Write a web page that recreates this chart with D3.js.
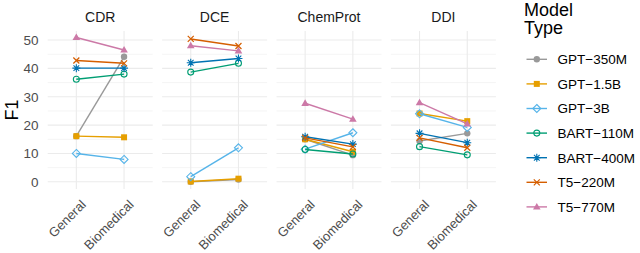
<!DOCTYPE html>
<html>
<head>
<meta charset="utf-8">
<script src="https://cdn.jsdelivr.net/npm/d3@7"></script>
<style>
body { margin:0; background:#fff; }
svg text { font-family: "Liberation Sans", Arial, sans-serif; }
</style>
</head>
<body>
<svg width="640" height="253"></svg>
<script>
// data
const tasks = ['CDR', 'DCE', 'ChemProt', 'DDI'];
const domains = ['General', 'Biomedical'];
const models = ['GPT-350M', 'GPT-1.5B', 'GPT-3B', 'BART-110M', 'BART-400M', 'T5-220M', 'T5-770M'];
const yTicks = [0, 10, 20, 30, 40, 50];
// values per model: [task][General, Biomedical]
const gpt350m  = [[16.1, 44.1], [0.0, 0.8], [15.0, 9.4], [14.4, 17.1]];
const gpt15b   = [[16.1, 15.7], [0.1, 1.1], [15.0, 10.6], [24.1, 21.4]];
const gpt3b    = [[10.0, 7.9], [1.8, 12.0], [11.5, 17.3], [24.0, 19.2]];
const bart110m = [[36.2, 38.0], [38.7, 41.8], [11.4, 9.8], [12.4, 9.5]];
const bart400m = [[40.1, 40.1], [42.0, 43.5], [15.9, 13.3], [17.1, 13.8]];
const t5220m   = [[42.8, 41.8], [50.4, 47.9], [15.5, 12.3], [15.5, 12.0]];
const t5770m   = [[50.9, 46.5], [48.0, 46.2], [27.7, 22.1], [27.9, 20.4]];
const values = [gpt350m, gpt15b, gpt3b, bart110m, bart400m, t5220m, t5770m];

const colors = ['#999999', '#E69F00', '#56B4E9', '#009E73', '#0072B2', '#D55E00', '#CC79A7'];

const svg = d3.select('svg');

//layout
const panelW = 105, panelGap = 9.4, left0 = 47.7;
const plotTop = 31, plotBottom = 189;

const yScale = d3.scaleLinear().domain([-2.54, 53.2]).range([plotBottom, plotTop]);
const xScale = d3.scalePoint().domain(domains).range([0, panelW]).padding(0.6);

// y axis labels + title
svg.append('text')
    .attr('transform', 'translate(17.5,' + (plotTop + plotBottom) / 2 + ') rotate(-90)')
    .attr('text-anchor', 'middle')
    .attr('font-size', 18).attr('fill', '#000')
    .text('F1');
svg.selectAll('.ylab')
    .data(yTicks)
    .join('text')
    .attr('class', 'ylab')
    .attr('x', 38.5).attr('y', d => yScale(d))
    .attr('dy', '0.36em')
    .attr('text-anchor', 'end')
    .attr('font-size', 13.5).attr('fill', '#4d4d4d')
    .text(d => d);

// symbol drawer
function drawSymbol(g, i, x, y) {
    const c = colors[i];
    if (i === 0) {
        g.append('circle').attr('cx', x).attr('cy', y).attr('r', 3.2).attr('fill', c);
    } else if (i === 1) {
        g.append('rect').attr('x', x - 3).attr('y', y - 3).attr('width', 6).attr('height', 6).attr('fill', c);
    } else if (i === 2) {
        g.append('path').attr('d', `M${x},${y - 4}L${x + 4},${y}L${x},${y + 4}L${x - 4},${y}Z`)
            .attr('fill', 'none').attr('stroke', c).attr('stroke-width', 1.1);
    } else if (i === 3) {
        g.append('circle').attr('cx', x).attr('cy', y).attr('r', 3).attr('fill', 'none')
            .attr('stroke', c).attr('stroke-width', 1.1);
    } else if (i === 4) {
        const p = d3.path();
        [0, 45, 90, 135].forEach(a => {
            const r = a * Math.PI / 180, dx = Math.cos(r) * 4, dy = Math.sin(r) * 4;
            p.moveTo(x - dx, y - dy); p.lineTo(x + dx, y + dy);
        });
        g.append('path').attr('d', p.toString()).attr('stroke', c).attr('stroke-width', 1.1);
    } else if (i === 5) {
        g.append('path').attr('d', `M${x - 3},${y - 3}L${x + 3},${y + 3}M${x - 3},${y + 3}L${x + 3},${y - 3}`)
            .attr('stroke', c).attr('stroke-width', 1.2);
    } else {
        g.append('path').attr('d', `M${x},${y - 4}L${x + 3.8},${y + 2.6}L${x - 3.8},${y + 2.6}Z`).attr('fill', c);
    }
}

const line = d3.line().x(d => xScale(d.domain)).y(d => yScale(d.value));

tasks.forEach((task, t) => {
    const px = left0 + t * (panelW + panelGap);
    const g = svg.append('g').attr('transform', 'translate(' + px + ',0)');

    // grid
    const minor = [5, 15, 25, 35, 45];
    g.selectAll('.minor').data(minor).join('line')
        .attr('x1', 0).attr('x2', panelW)
        .attr('y1', d => yScale(d)).attr('y2', d => yScale(d))
        .attr('stroke', '#ebebeb').attr('stroke-width', 0.55);
    g.selectAll('.major').data(yTicks).join('line')
        .attr('x1', 0).attr('x2', panelW)
        .attr('y1', d => yScale(d)).attr('y2', d => yScale(d))
        .attr('stroke', '#ebebeb').attr('stroke-width', 1.1);
    g.selectAll('.vgrid').data(domains).join('line')
        .attr('x1', d => xScale(d)).attr('x2', d => xScale(d))
        .attr('y1', plotTop).attr('y2', plotBottom)
        .attr('stroke', '#ebebeb').attr('stroke-width', 1.1);

    // strip title
    g.append('text')
        .attr('x', panelW / 2).attr('y', 21.7)
        .attr('text-anchor', 'middle')
        .attr('font-size', 14).attr('fill', '#1a1a1a')
        .text(task);

    // x labels
    g.selectAll('.xlab').data(domains).join('text')
        .attr('transform', d => 'translate(' + (xScale(d) + 4) + ',' + (plotBottom + 10) + ') rotate(-45)')
        .attr('text-anchor', 'end')
        .attr('dy', '0.7em')
        .attr('font-size', 13).attr('fill', '#4d4d4d')
        .text(d => d);

    // series
    models.forEach((m, i) => {
        const pts = domains.map((d, k) => ({ domain: d, value: values[i][t][k] }));
        g.append('path')
            .attr('d', line(pts))
            .attr('fill', 'none')
            .attr('stroke', colors[i])
            .attr('stroke-width', 1.4);
        pts.forEach(p => drawSymbol(g, i, xScale(p.domain), yScale(p.value)));
    });
});

// legend
const lg = svg.append('g');
lg.append('text').attr('x', 524).attr('y', 15.5).attr('font-size', 18).attr('fill', '#000').text('Model');
lg.append('text').attr('x', 524).attr('y', 34).attr('font-size', 18).attr('fill', '#000').text('Type');
models.forEach((m, i) => {
    const y = 59.3 + i * 24.6;
    lg.append('line').attr('x1', 526.5).attr('x2', 547).attr('y1', y).attr('y2', y)
        .attr('stroke', colors[i]).attr('stroke-width', 1.4);
    drawSymbol(lg, i, 536.8, y);
    lg.append('text').attr('x', 557.5).attr('y', y).attr('dy', '0.36em')
        .attr('font-size', 13.5).attr('fill', '#000')
        .text(m.replace('-', '\u2212'));
});
</script>
</body>
</html>
